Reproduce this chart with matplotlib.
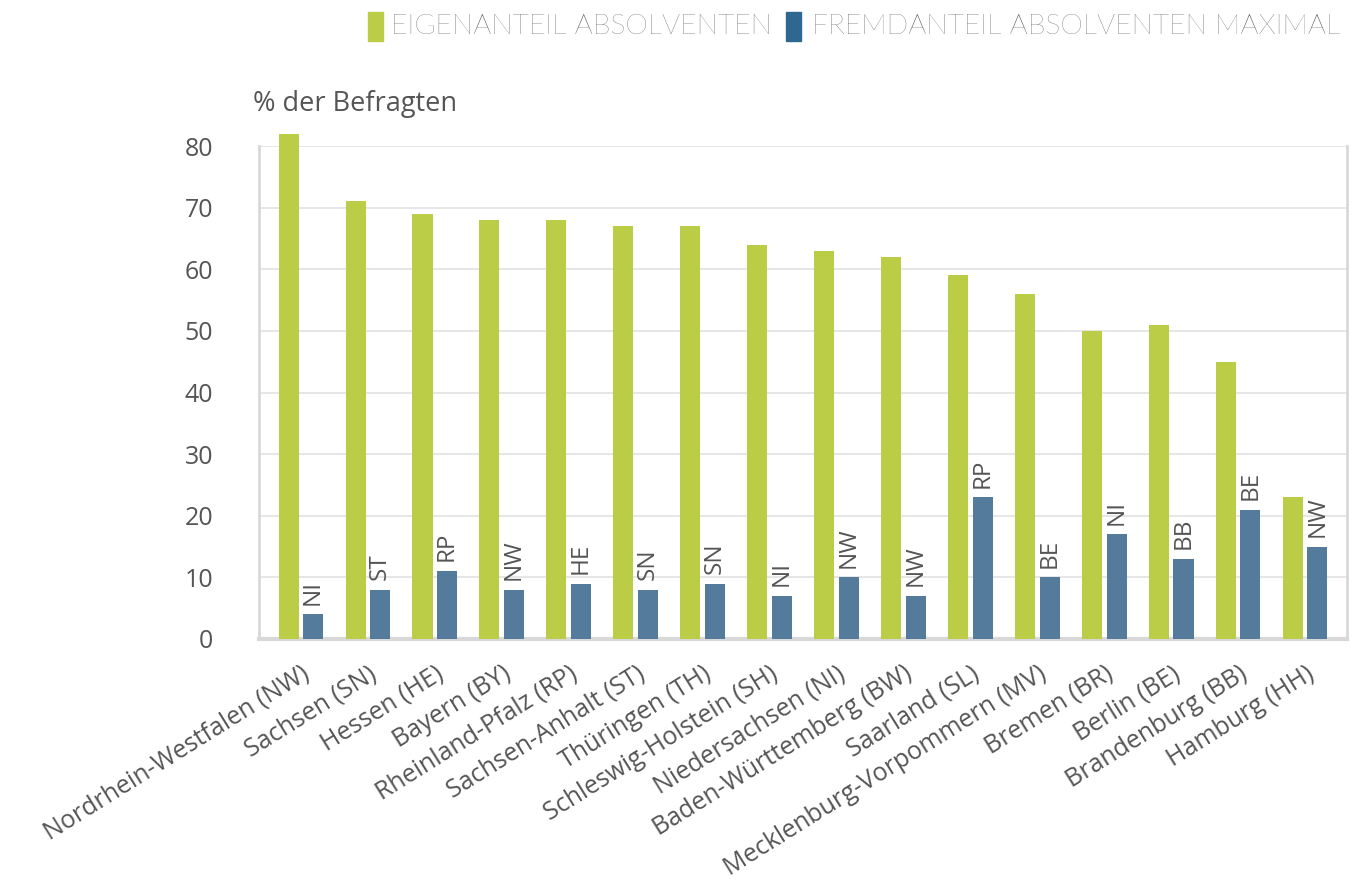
import matplotlib
matplotlib.use("Agg")
import matplotlib.pyplot as plt
from matplotlib.patches import Rectangle
import numpy as np

categories = ["Nordrhein-Westfalen (NW)", "Sachsen (SN)", "Hessen (HE)", "Bayern (BY)",
              "Rheinland-Pfalz (RP)", "Sachsen-Anhalt (ST)", "Thüringen (TH)",
              "Schleswig-Holstein (SH)", "Niedersachsen (NI)", "Baden-Württemberg (BW)",
              "Saarland (SL)", "Mecklenburg-Vorpommern (MV)", "Bremen (BR)", "Berlin (BE)",
              "Brandenburg (BB)", "Hamburg (HH)"]
eigen = [82, 71, 69, 68, 68, 67, 67, 64, 63, 62, 59, 56, 50, 51, 45, 23]
fremd = [4, 8, 11, 8, 9, 8, 9, 7, 10, 7, 23, 10, 17, 13, 21, 15]
fremd_labels = ["NI", "ST", "RP", "NW", "HE", "SN", "SN", "NI", "NW", "NW",
                "RP", "BE", "NI", "BB", "BE", "NW"]
yticks = [0, 10, 20, 30, 40, 50, 60, 70, 80]
legend_labels = ["EIGENANTEIL ABSOLVENTEN", "FREMDANTEIL ABSOLVENTEN MAXIMAL"]

GREEN = "#BBCD46"
BLUE = "#557B9C"
BLUE_LEG = "#2E6891"
TXT = "#555555"
FONT = "Open Sans"

W, H = 1370, 883
fig = plt.figure(figsize=(W / 100, H / 100), dpi=100)
ax = fig.add_axes([259 / W, 1 - 639 / H, (1347 - 259) / W, (639 - 146) / H])

x = np.arange(len(categories))
bw = 0.3
off = 0.183
ax.bar(x - off, eigen, bw, color=GREEN, clip_on=False, zorder=3)
ax.bar(x + off, fremd, bw, color=BLUE, clip_on=False, zorder=3)

for xi, v, lab in zip(x, fremd, fremd_labels):
    ax.annotate(lab, (xi + off, v), xytext=(0, 7), textcoords="offset points",
                rotation=90, ha="center", va="bottom", fontsize=17.5,
                color=TXT, family=FONT)

ax.set_xlim(-0.625, 15.625)
ax.set_ylim(0, 80)
ax.set_yticks(yticks)
ax.set_yticklabels([str(t) for t in yticks], fontsize=18, color=TXT, family=FONT)
ax.tick_params(axis="y", length=0, pad=33)
ax.set_xticks(x)
ax.set_xticklabels(categories, rotation=32, ha="right", va="top", rotation_mode="anchor",
                   fontsize=18, color=TXT, family=FONT)
ax.tick_params(axis="x", length=0, pad=16)

ax.grid(axis="y", color="#e2e2e2", linewidth=1.2, zorder=0)
ax.set_axisbelow(True)
for s in ["left", "right", "bottom"]:
    ax.spines[s].set_color("#d8d8d8")
ax.spines["left"].set_linewidth(2)
ax.spines["right"].set_linewidth(2)
ax.spines["bottom"].set_linewidth(3)
ax.spines["top"].set_visible(False)

fig.text(253 / W, 1 - 111 / H, "% der Befragten", fontsize=19.5, color=TXT,
         family=FONT, ha="left", va="baseline")

# legend
fig.patches.append(Rectangle((368 / W, 1 - 41 / H), 15 / W, 29 / H,
                             transform=fig.transFigure, color=GREEN))
fig.text(391 / W, 1 - 27 / H, legend_labels[0], fontsize=20.5, color="#4a4a4a",
         family="Lato", weight="light", ha="left", va="center")
fig.patches.append(Rectangle((786 / W, 1 - 41 / H), 15 / W, 29 / H,
                             transform=fig.transFigure, color=BLUE_LEG))
fig.text(812 / W, 1 - 27 / H, legend_labels[1], fontsize=20.5, color="#4a4a4a",
         family="Lato", weight="light", ha="left", va="center")

fig.savefig("out.png", dpi=100)
